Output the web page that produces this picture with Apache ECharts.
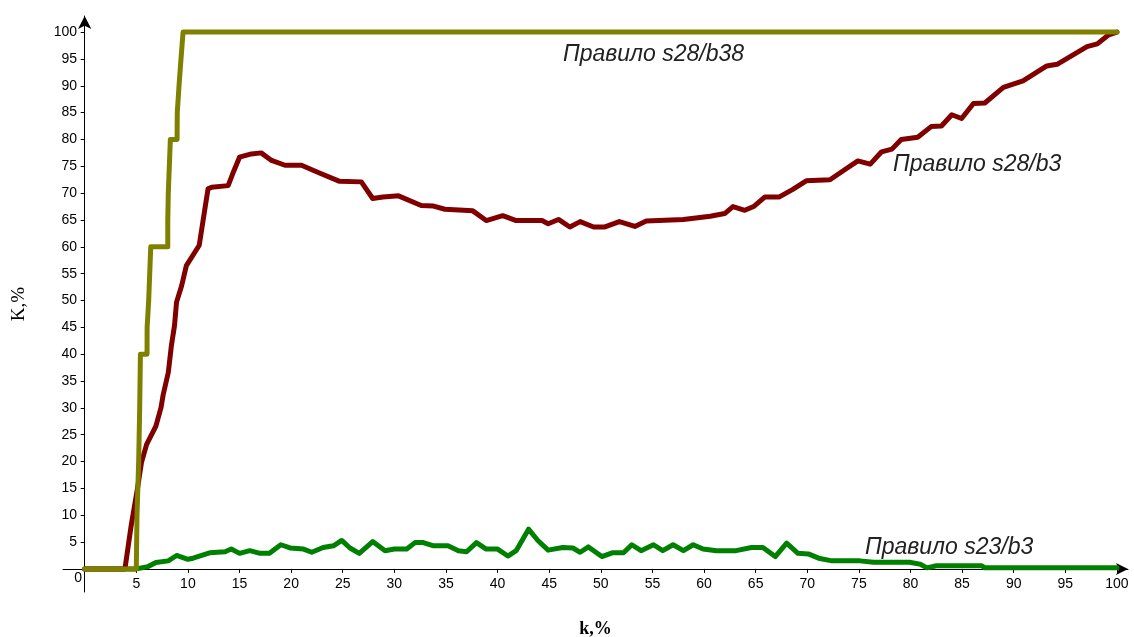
<!DOCTYPE html>
<html>
<head>
<meta charset="utf-8">
<script src="https://cdn.jsdelivr.net/npm/echarts@6/dist/echarts.min.js"></script>
<style>
html,body{margin:0;padding:0;background:#fff;}
#chart{width:1134px;height:637px;}
</style>
</head>
<body>
<div id="chart"></div>
<script>
// ---- data ----
const tickValues = [0,5,10,15,20,25,30,35,40,45,50,55,60,65,70,75,80,85,90,95,100];
const xTickValues = [5,10,15,20,25,30,35,40,45,50,55,60,65,70,75,80,85,90,95,100];

const labelS28b38 = 'Правило s28/b38';
const labelS28b3 = 'Правило s28/b3';
const labelS23b3 = 'Правило s23/b3';

const xAxisName = 'k,%';
const yAxisName = 'K,%';

// Правило s28/b38 (olive)
const s28b38X = [0, 5.0, 5.07, 5.23, 5.33, 5.4, 6.04, 6.05, 6.2, 6.3, 6.4, 8.05, 8.05, 8.1, 8.2, 8.3, 8.95, 8.97, 9.14, 9.33, 9.53, 100];
const s28b38Y = [0, 0, 10, 20, 30, 40, 40, 45, 50, 55, 60, 60, 65, 70, 75, 80, 80, 85, 90, 95, 100, 100];

// Правило s28/b3 (dark red)
const s28b3X = [0,3.9,4.5,5.1,5.5,6.0,6.9,7.4,7.6,8.1,8.4,8.7,8.9,9.4,9.85,11.1,11.6,11.95,12.3,13.9,14.4,15.0,16.15,17.1,18.1,19.4,21.0,22.8,24.7,26.8,27.9,28.9,30.4,32.6,33.8,34.9,37.6,38.9,40.5,41.8,44.3,44.9,45.9,47.0,48.0,49.3,50.4,51.8,53.3,54.4,58.0,60.6,62.0,62.8,63.95,64.8,65.9,67.3,68.6,69.9,72.2,73.8,74.9,76.1,77.2,78.2,79.1,80.7,82.0,83.0,84.0,84.95,86.1,87.2,89.0,90.9,93.2,94.2,97.1,98.1,99.2,100];
const s28b3Y = [0,0,8,14.8,19.8,23.2,26.6,30.1,32.4,36.6,41.6,45.3,49.7,52.8,56.5,60.3,66.5,70.8,71.1,71.4,73.9,76.7,77.3,77.5,76.1,75.2,75.2,73.7,72.2,72.1,69.0,69.3,69.5,67.7,67.6,67.0,66.7,64.9,65.8,64.9,64.9,64.3,65.1,63.7,64.7,63.7,63.7,64.7,63.8,64.8,65.1,65.7,66.2,67.5,66.8,67.5,69.3,69.3,70.7,72.3,72.5,74.6,76.0,75.4,77.7,78.2,80.0,80.4,82.4,82.5,84.6,83.9,86.7,86.8,89.7,90.9,93.7,94.0,97.3,97.8,99.5,100];

// Правило s23/b3 (green)
const s23b3X = [0,5.0,6.1,6.9,8.1,8.9,10.0,10.5,12.1,13.6,14.2,15.0,16.0,17.0,17.9,19.0,19.9,21.2,22.0,23.1,24.1,24.9,25.7,26.6,27.9,29.1,30.0,31.2,32.0,32.8,33.8,35.2,36.2,37.0,37.95,38.9,40.0,41.0,41.8,43.0,43.9,44.9,46.3,47.3,48.0,48.8,50.1,51.1,52.2,53.0,53.9,55.1,56.0,57.0,58.0,58.95,59.9,61.2,63.1,64.6,65.7,66.9,68.0,69.1,70.1,71.1,72.4,75.1,76.4,79.9,80.9,81.6,82.5,86.9,87.2,100];
const s23b3Y = [0,0,0.4,1.2,1.5,2.5,1.8,2.0,3.0,3.2,3.7,2.9,3.4,2.9,2.9,4.5,3.9,3.7,3.1,4.0,4.3,5.3,3.9,2.9,5.1,3.4,3.7,3.7,4.9,4.9,4.3,4.3,3.4,3.2,4.9,3.7,3.7,2.4,3.4,7.4,5.3,3.5,4.0,3.9,3.1,4.1,2.3,3.0,3.0,4.5,3.4,4.5,3.4,4.5,3.4,4.5,3.7,3.4,3.4,4.0,4.0,2.3,4.8,2.9,2.8,2.0,1.5,1.5,1.25,1.25,0.9,0.2,0.6,0.6,0.2,0.2];

const zip = (xs, ys) => xs.map((x, i) => [x, ys[i]]);

const chart = echarts.init(document.getElementById('chart'), null, {renderer: 'canvas'});

const lineSeries = (name, xs, ys, color) => ({
  name: name,
  type: 'line',
  data: zip(xs, ys),
  symbol: 'none',
  smooth: false,
  animation: false,
  lineStyle: {color: color, width: 5, cap: 'round', join: 'round'},
  itemStyle: {color: color}
});

const tickFont = 'Liberation Sans';
const noteFont = 'italic 23px "Liberation Sans"';

chart.setOption({
  animation: false,
  backgroundColor: '#ffffff',
  grid: {left: 63, right: 6, top: 16, bottom: 45, containLabel: false, outerBoundsMode: 'none'},
  xAxis: {
    type: 'value',
    min: -2.1,
    max: 101.07,
    name: xAxisName,
    nameLocation: 'middle',
    nameGap: 28,
    nameMoveOverlap: false,
    nameTextStyle: {fontFamily: 'Liberation Serif', fontSize: 18, fontWeight: 'bold', color: '#000'},
    axisLine: {onZero: true, lineStyle: {color: '#000', width: 1}, symbol: ['none', 'arrow'], symbolSize: [9, 12]},
    axisTick: {show: true, length: 4, customValues: xTickValues, lineStyle: {color: '#000'}},
    axisLabel: {customValues: xTickValues, margin: -15, fontFamily: tickFont, fontSize: 14, color: '#000'},
    splitLine: {show: false}
  },
  yAxis: {
    type: 'value',
    min: -4.3,
    max: 103,
    name: yAxisName,
    nameLocation: 'middle',
    nameRotate: 90,
    nameGap: 34,
    nameMoveOverlap: false,
    nameTextStyle: {fontFamily: 'Liberation Serif', fontSize: 19, color: '#000'},
    axisLine: {onZero: true, lineStyle: {color: '#000', width: 1}, symbol: ['none', 'arrow'], symbolSize: [10, 13]},
    axisTick: {show: true, length: 4, customValues: tickValues.slice(1), lineStyle: {color: '#000'}},
    axisLabel: {
      customValues: tickValues,
      margin: -19,
      fontFamily: tickFont, fontSize: 14, color: '#000',
      formatter: v => v === 0 ? '{z|0}' : '{n|' + v + '}',
      rich: {
        n: {fontFamily: tickFont, fontSize: 14, color: '#000', padding: [0, 5, 0, 0]},
        z: {fontFamily: tickFont, fontSize: 14, color: '#000', padding: [18, 0, 0, 0]}
      }
    },
    splitLine: {show: false}
  },
  graphic: [
    {type: 'text', left: 563, top: 43, style: {text: labelS28b38, font: noteFont, fill: '#222'}},
    {type: 'text', left: 893, top: 153, style: {text: labelS28b3, font: noteFont, fill: '#222'}},
    {type: 'text', left: 865, top: 536, style: {text: labelS23b3, font: noteFont, fill: '#222'}}
  ],
  series: [
    lineSeries(labelS23b3, s23b3X, s23b3Y, '#008000'),
    lineSeries(labelS28b3, s28b3X, s28b3Y, '#800000'),
    lineSeries(labelS28b38, s28b38X, s28b38Y, '#808000')
  ]
});
</script>
</body>
</html>
